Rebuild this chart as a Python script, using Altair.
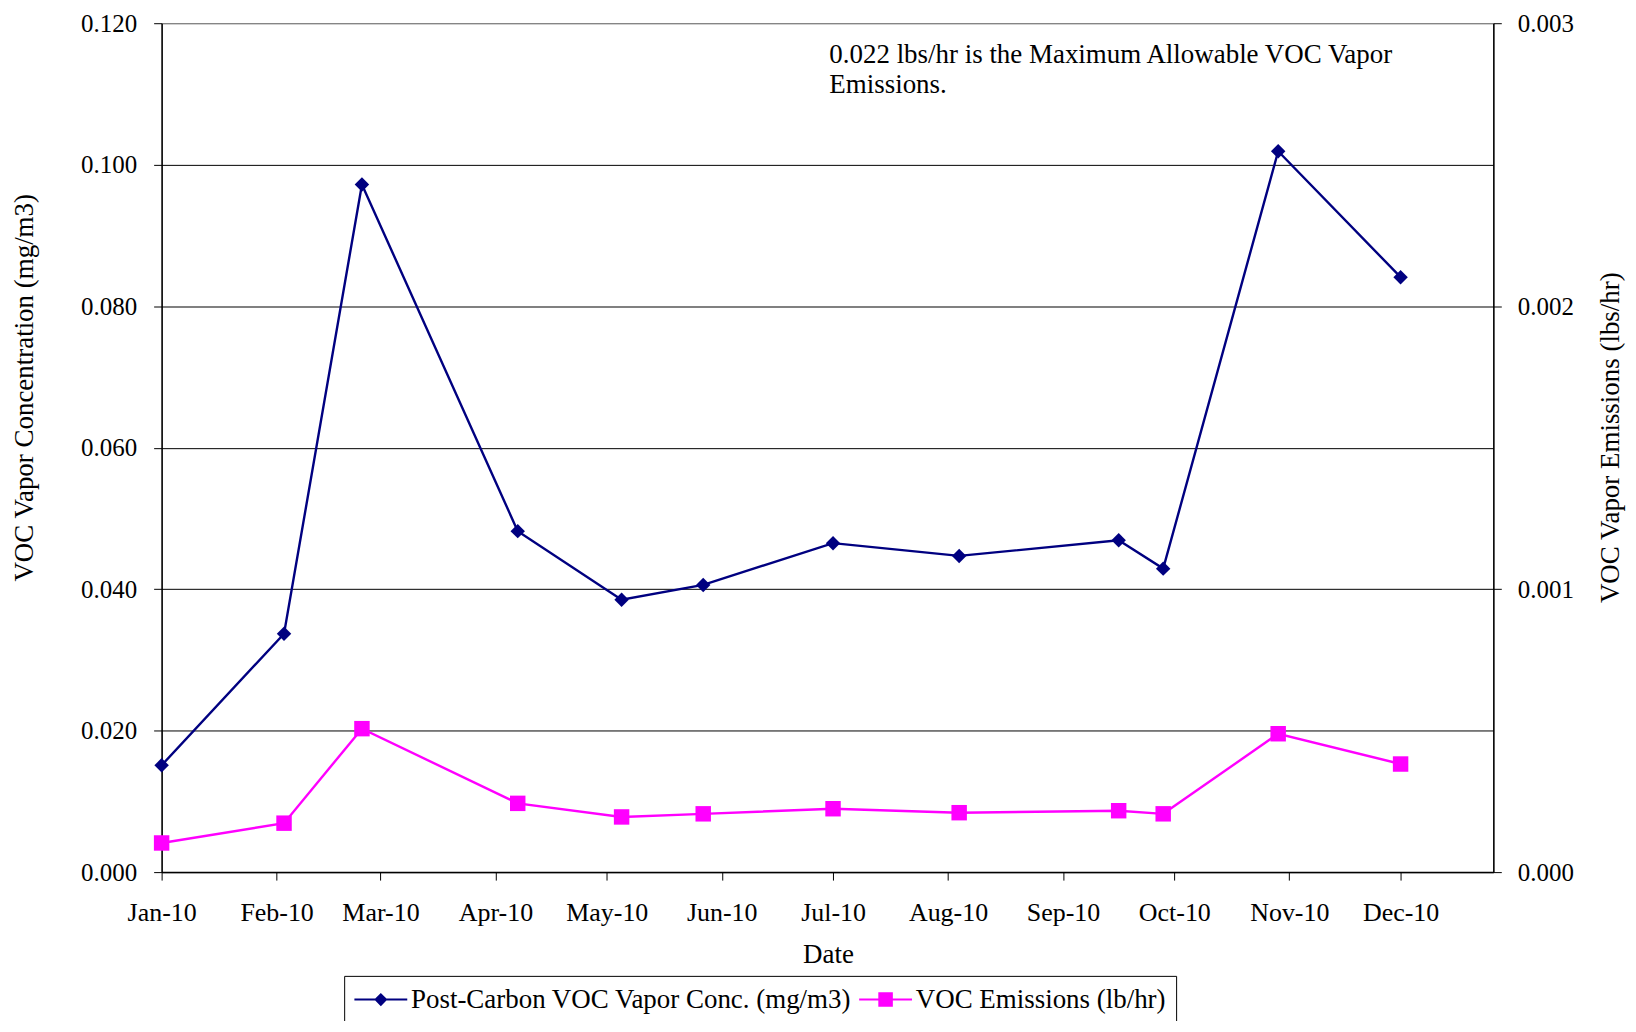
import altair as alt
import pandas as pd

# ---- data ----
dates = ["2010-01-01", "2010-02-03", "2010-02-24", "2010-04-07", "2010-05-05", "2010-05-27",
         "2010-07-01", "2010-08-04", "2010-09-16", "2010-09-28", "2010-10-29", "2010-12-01"]
conc = [0.0151, 0.0337, 0.0972, 0.0482, 0.0385, 0.0406,
        0.0465, 0.0447, 0.0469, 0.0429, 0.1019, 0.0841]
emis = [0.000103, 0.000173, 0.000507, 0.000243, 0.000195, 0.000206,
        0.000224, 0.000210, 0.000217, 0.000206, 0.000489, 0.000382]
series_names = ["Post-Carbon VOC Vapor Conc. (mg/m3)", "VOC Emissions (lb/hr)"]
series_colors = ["#000080", "#FF00FF"]
month_ticks = [(2010, m) for m in range(1, 13)]
x_start = (2010, 1, 1)
x_end = (2010, 12, 26)
left_ticks = [0.0, 0.02, 0.04, 0.06, 0.08, 0.10, 0.12]
right_ticks = [0.0, 0.001, 0.002, 0.003]
note_lines = ["0.022 lbs/hr is the Maximum Allowable VOC Vapor", "Emissions."]
note_date = "2010-06-30"
note_value = 0.1174

FONT = "Liberation Serif"

df1 = pd.DataFrame({"date": dates, "conc": conc})
df2 = pd.DataFrame({"date": dates, "emis": emis})
note_df = pd.DataFrame({"date": [note_date], "conc": [note_value], "note": [note_lines]})
legend_df = pd.DataFrame({"series": series_names})

x_enc = alt.X(
    "date:T",
    scale=alt.Scale(
        type="utc",
        domain=[alt.DateTime(year=x_start[0], month=x_start[1], date=x_start[2], utc=True),
                alt.DateTime(year=x_end[0], month=x_end[1], date=x_end[2], utc=True)],
    ),
    axis=alt.Axis(
        orient="bottom",
        values=[alt.DateTime(year=y, month=m, date=1, utc=True) for y, m in month_ticks],
        format="%b-%y",
        grid=False,
        title="Date",
        titleX=668, titleY=83, titleAlign="center", titleBaseline="middle",
        tickSize=8, labelPadding=20, domainWidth=1.5, labelFlush=False,
        labelFontSize=26,
    ),
)

y_left = alt.Y(
    "conc:Q",
    scale=alt.Scale(domain=[0, 0.12], nice=False),
    axis=alt.Axis(
        orient="left", values=left_ticks, format=".3f",
        title="VOC Vapor Concentration (mg/m3)",
        titleAngle=270, titleX=-137, titleY=365, titleAlign="center", titleBaseline="middle",
        grid=True,
        gridColor={"condition": {"test": "datum.value >= 0.119", "value": "#808080"}, "value": "#000000"},
        gridWidth=1,
        tickSize=8, labelPadding=17, domainWidth=1.5, labelFontSize=25,
    ),
)

y_right = alt.Y(
    "emis:Q",
    scale=alt.Scale(domain=[0, 0.003], nice=False),
    axis=alt.Axis(
        orient="right", values=right_ticks, format=".3f",
        title="VOC Vapor Emissions (lbs/hr)",
        titleAngle=270, titleX=117, titleY=415, titleAlign="center", titleBaseline="middle",
        grid=False, tickSize=8, labelPadding=16, domainWidth=1.5, labelFontSize=25,
    ),
)

line1 = alt.Chart(df1).mark_line(color=series_colors[0], strokeWidth=2.4).encode(x=x_enc, y=y_left)
pts1 = alt.Chart(df1).mark_point(shape="diamond", filled=True, size=210, color=series_colors[0],
                                 opacity=1).encode(x=x_enc, y=y_left)
note = alt.Chart(note_df).mark_text(align="left", baseline="top", font=FONT, fontSize=27,
                                    lineHeight=31, color="black").encode(x=x_enc, y=y_left, text="note")
layer1 = alt.layer(line1, pts1, note)

line2 = alt.Chart(df2).mark_line(color=series_colors[1], strokeWidth=2.4).encode(x=x_enc, y=y_right)
pts2 = alt.Chart(df2).mark_point(shape="square", filled=True, size=240, color=series_colors[1],
                                 opacity=1).encode(x=x_enc, y=y_right)
layer2 = alt.layer(line2, pts2)

legend_paths = [
    "M-1,-0.08H3V0.08H-1Z M1,-0.5L1.5,0L1,0.5L0.5,0Z",
    "M-1,-0.08H3V0.08H-1Z M0.45,-0.55H1.55V0.55H0.45Z",
]
leg = alt.Legend(
    title=None, orient="none", legendX=183, legendY=955, direction="horizontal",
    strokeColor="black", fillColor="white", padding=10,
    labelFont=FONT, labelFontSize=27, labelColor="black", labelLimit=800,
    symbolSize=702, labelOffset=30, columnPadding=7, symbolStrokeWidth=0,
)
phantom = alt.Chart(legend_df).mark_point(filled=True, opacity=1).encode(
    color=alt.Color("series:N", scale=alt.Scale(domain=series_names, range=series_colors), legend=leg),
    shape=alt.Shape("series:N", scale=alt.Scale(domain=series_names, range=legend_paths), legend=leg),
).transform_filter("false")

chart = alt.layer(layer1, layer2, phantom).resolve_scale(y="independent").properties(
    width=1335, height=851,
    padding={"left": 154, "top": 14, "right": 135, "bottom": 148},
    autosize=alt.AutoSizeParams(type="none"),
    background="white",
).configure_view(
    stroke="#808080", strokeWidth=1,
).configure_axis(
    labelFont=FONT, labelColor="black",
    titleFont=FONT, titleFontSize=27, titleFontWeight="normal", titleColor="black",
    domainColor="black", tickColor="black",
)

chart.save("out.html", embed_options={"renderer": "svg", "actions": False})
